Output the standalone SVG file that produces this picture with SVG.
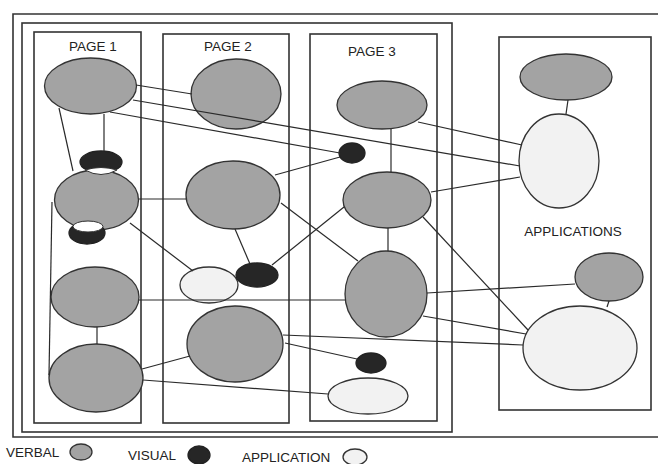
<svg xmlns="http://www.w3.org/2000/svg" width="658" height="464" viewBox="0 0 658 464">
<style>
.frame{fill:none;stroke:#333;stroke-width:1.6}
.box{fill:none;stroke:#333;stroke-width:1.6}
.v{fill:#a3a3a3;stroke:#333;stroke-width:1.3}
.b{fill:#262626;stroke:#222;stroke-width:1.3}
.a{fill:#f2f2f2;stroke:#333;stroke-width:1.3}
.w{fill:#fff;stroke:#333;stroke-width:1}
.c line{stroke:#2a2a2a;stroke-width:1.2}
text{font-family:"Liberation Sans",Arial,sans-serif;font-size:13.5px;fill:#222}
</style>
<rect width="658" height="464" fill="#fff"/>
<g id="frames">
<path class="frame" d="M660,14 H13 V437 H660"/>
<rect class="frame" x="22" y="23" width="430" height="409"/>
</g>
<g id="page1"><rect class="box" x="34" y="32" width="107" height="391"/><text x="93" y="51" text-anchor="middle">PAGE 1</text></g>
<g id="page2"><rect class="box" x="163" y="34" width="126" height="389"/><text x="228" y="51" text-anchor="middle">PAGE 2</text></g>
<g id="page3"><rect class="box" x="310" y="34" width="127" height="387"/><text x="372" y="56" text-anchor="middle">PAGE 3</text></g>
<g id="applications"><rect class="box" x="499" y="37" width="152" height="373"/><text x="573" y="236" text-anchor="middle">APPLICATIONS</text></g>

<g id="p1v1"><ellipse class="v" cx="90.5" cy="86" rx="46" ry="28"/></g>
<g id="p2v1"><ellipse class="v" cx="236" cy="94" rx="45" ry="35"/></g>
<g id="p1b1"><ellipse class="b" cx="101" cy="162" rx="21" ry="11"/></g>
<g id="p1v2"><ellipse class="v" cx="96.5" cy="200" rx="42" ry="30"/><path class="w" d="M85,170 Q101,165 117,170 Q101,179 85,170 Z"/></g>
<g id="p1b2"><ellipse class="b" cx="87" cy="233" rx="18" ry="11"/><ellipse class="w" cx="88" cy="226.5" rx="15" ry="5.5"/></g>
<g id="p1v3"><ellipse class="v" cx="95" cy="297" rx="44" ry="30"/></g>
<g id="p1v4"><ellipse class="v" cx="96" cy="378" rx="47" ry="34"/></g>
<g id="p2v2"><ellipse class="v" cx="233" cy="195" rx="47" ry="34"/></g>
<g id="p2a1"><ellipse class="a" cx="209" cy="285" rx="29" ry="18"/></g>
<g id="p2b1"><ellipse class="b" cx="257" cy="275" rx="21" ry="12"/></g>
<g id="p2v3"><ellipse class="v" cx="235" cy="344" rx="48" ry="38"/></g>
<g id="p3v1"><ellipse class="v" cx="382" cy="105" rx="45" ry="24"/></g>
<g id="p3b1"><ellipse class="b" cx="352" cy="153" rx="13" ry="10"/></g>
<g id="p3v2"><ellipse class="v" cx="387" cy="200" rx="44" ry="28"/></g>
<g id="p3v3"><ellipse class="v" cx="386" cy="294" rx="41" ry="43"/></g>
<g id="p3b2"><ellipse class="b" cx="371" cy="363" rx="15" ry="10"/></g>
<g id="p3a1"><ellipse class="a" cx="368" cy="396" rx="40" ry="18"/></g>
<g id="apv1"><ellipse class="v" cx="566" cy="77" rx="46" ry="23"/></g>
<g id="apa1"><ellipse class="a" cx="559" cy="161" rx="40" ry="47"/></g>
<g id="apv2"><ellipse class="v" cx="609" cy="277" rx="34" ry="24"/></g>
<g id="apa2"><ellipse class="a" cx="580" cy="348" rx="57" ry="42"/></g>

<g id="connectors" class="c">
<line x1="104" y1="114" x2="104" y2="151"/>
<line x1="59" y1="108" x2="73" y2="171"/>
<line x1="52" y1="202" x2="49" y2="375"/>
<line x1="97" y1="327" x2="97" y2="344"/>
<line x1="136" y1="85" x2="192" y2="94"/>
<line x1="133" y1="100" x2="520" y2="166"/>
<line x1="110" y1="112" x2="340" y2="153"/>
<line x1="139" y1="199" x2="186" y2="199"/>
<line x1="275" y1="175" x2="340" y2="157"/>
<line x1="418" y1="122" x2="522" y2="145"/>
<line x1="431" y1="192" x2="520" y2="177"/>
<line x1="391" y1="129" x2="391" y2="172"/>
<line x1="388" y1="228" x2="388" y2="251"/>
<line x1="344" y1="207" x2="272" y2="265"/>
<line x1="423" y1="217" x2="528" y2="330"/>
<line x1="281" y1="203" x2="358" y2="261"/>
<line x1="130" y1="223" x2="193" y2="271"/>
<line x1="235" y1="229" x2="250" y2="264"/>
<line x1="139" y1="300" x2="346" y2="300"/>
<line x1="427" y1="293" x2="575" y2="284"/>
<line x1="423" y1="316" x2="526" y2="334"/>
<line x1="283" y1="335" x2="523" y2="345"/>
<line x1="285" y1="343" x2="357" y2="359"/>
<line x1="142" y1="369" x2="190" y2="356"/>
<line x1="143" y1="380" x2="328" y2="394"/>
<line x1="568" y1="100" x2="566" y2="114"/>
<line x1="609" y1="301" x2="607" y2="307"/>
</g>

<g id="legend">
<text x="6" y="457">VERBAL</text>
<ellipse class="v" cx="81" cy="452" rx="11" ry="8"/>
<text x="128" y="460">VISUAL</text>
<ellipse class="b" cx="199" cy="455" rx="11" ry="9"/>
<text x="242" y="462">APPLICATION</text>
<ellipse class="a" cx="355" cy="457" rx="12" ry="8"/>
</g>
</svg>
